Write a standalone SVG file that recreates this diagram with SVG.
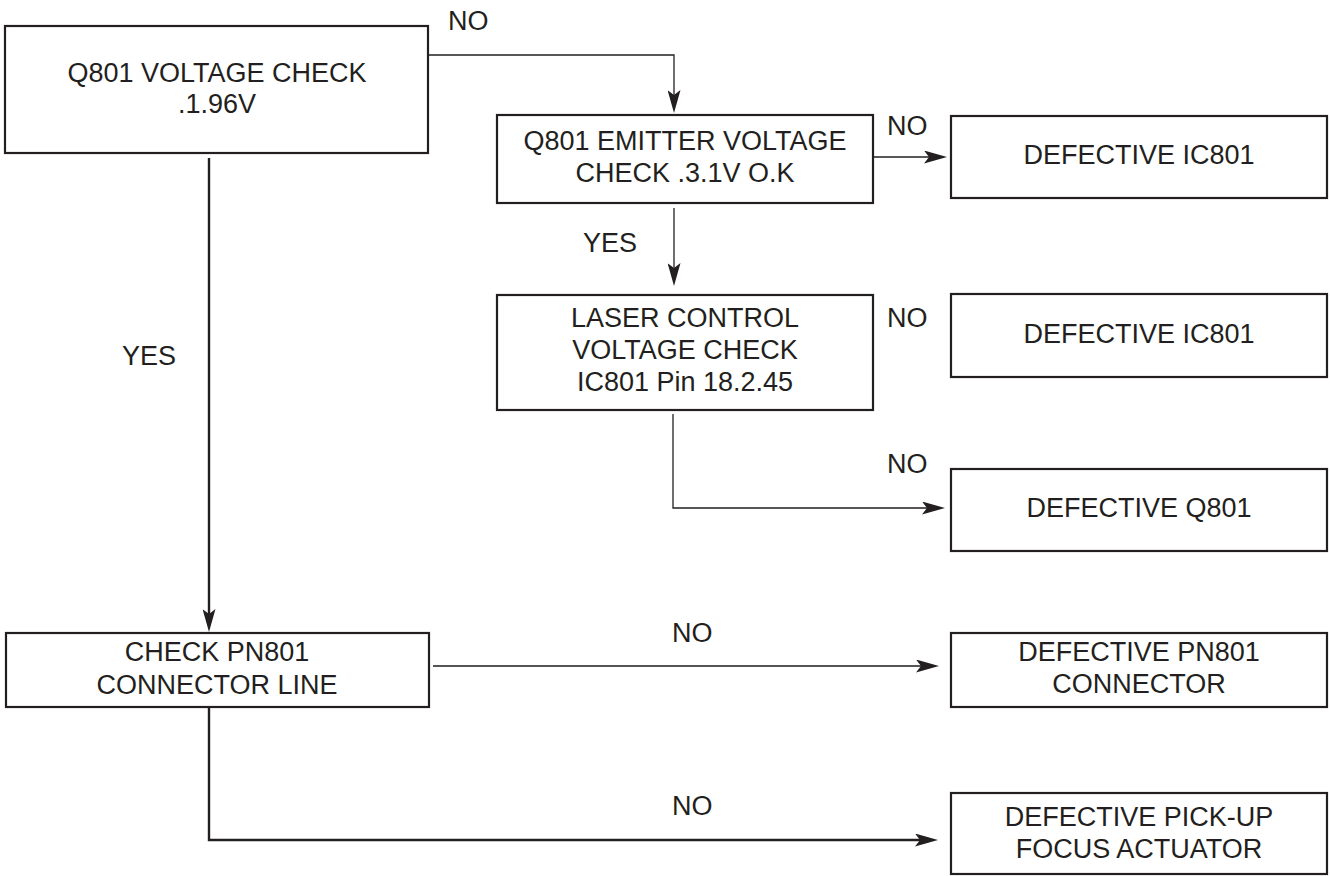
<svg xmlns="http://www.w3.org/2000/svg" width="1330" height="876" viewBox="0 0 1330 876">
<style>
.box{fill:#fff;stroke:#231f20;stroke-width:2.2}
.t{font-family:"Liberation Sans",Arial,sans-serif;font-size:27px;fill:#231f20;text-anchor:middle}
.lbl{font-family:"Liberation Sans",Arial,sans-serif;font-size:27px;fill:#231f20}
.c{fill:none;stroke:#231f20;stroke-width:1.3;marker-end:url(#ah)}
.c2{fill:none;stroke:#231f20;stroke-width:2.4;marker-end:url(#ah)}
.cg{fill:none;stroke:#555;stroke-width:1.8;marker-end:url(#ah)}
</style>
<defs>
<marker id="ah" viewBox="0 0 23 13" refX="13" refY="6.5" markerWidth="23" markerHeight="13" markerUnits="userSpaceOnUse" orient="auto">
<path d="M0,0 L23,6.5 L0,13 L5,6.5 Z" fill="#231f20"/>
</marker>
</defs>
<rect width="1330" height="876" fill="#fff"/>
<g id="connectors">
<path class="c" d="M428,55 H674 V103"/>
<path class="c" d="M873,157 H937"/>
<path class="c" d="M674,208 V276"/>
<path class="c" d="M673,414 V508 H935"/>
<path class="c2" d="M209,158 V622"/>
<path class="cg" d="M433,666 H929"/>
<path class="c2" d="M209,707 V840 H928"/>
<text class="lbl" x="448" y="30">NO</text>
<text class="lbl" x="887" y="135">NO</text>
<text class="lbl" x="583" y="252">YES</text>
<text class="lbl" x="887" y="327">NO</text>
<text class="lbl" x="887" y="473">NO</text>
<text class="lbl" x="122" y="365">YES</text>
<text class="lbl" x="672" y="642">NO</text>
<text class="lbl" x="672" y="815">NO</text>
</g>
<g id="n1">
<rect class="box" x="5" y="26" width="423" height="127"/>
<text class="t" x="217" y="82">Q801 VOLTAGE CHECK</text>
<text class="t" x="217" y="113">.1.96V</text>
</g>
<g id="n2">
<rect class="box" x="497" y="115" width="376" height="88"/>
<text class="t" x="685" y="150">Q801 EMITTER VOLTAGE</text>
<text class="t" x="685" y="182">CHECK .3.1V O.K</text>
</g>
<g id="n3">
<rect class="box" x="951" y="116" width="376" height="82"/>
<text class="t" x="1139" y="164">DEFECTIVE IC801</text>
</g>
<g id="n4">
<rect class="box" x="497" y="295" width="376" height="115"/>
<text class="t" x="685" y="327">LASER CONTROL</text>
<text class="t" x="685" y="359">VOLTAGE CHECK</text>
<text class="t" x="685" y="391">IC801 Pin 18.2.45</text>
</g>
<g id="n5">
<rect class="box" x="951" y="294" width="376" height="83"/>
<text class="t" x="1139" y="343">DEFECTIVE IC801</text>
</g>
<g id="n6">
<rect class="box" x="951" y="469" width="376" height="82"/>
<text class="t" x="1139" y="517">DEFECTIVE Q801</text>
</g>
<g id="n7">
<rect class="box" x="6" y="633" width="423" height="74"/>
<text class="t" x="217" y="661">CHECK PN801</text>
<text class="t" x="217" y="694">CONNECTOR LINE</text>
</g>
<g id="n8">
<rect class="box" x="951" y="633" width="376" height="74"/>
<text class="t" x="1139" y="661">DEFECTIVE PN801</text>
<text class="t" x="1139" y="693">CONNECTOR</text>
</g>
<g id="n9">
<rect class="box" x="951" y="793" width="376" height="81"/>
<text class="t" x="1139" y="826">DEFECTIVE PICK-UP</text>
<text class="t" x="1139" y="858">FOCUS ACTUATOR</text>
</g>
</svg>
